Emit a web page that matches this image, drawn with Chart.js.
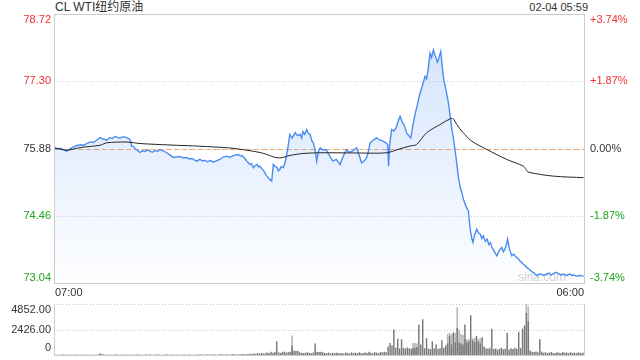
<!DOCTYPE html>
<html>
<head>
<meta charset="utf-8">
<script src="https://cdn.jsdelivr.net/npm/chart.js@4.4.0/dist/chart.umd.min.js"></script>
<style>
  html, body { margin: 0; padding: 0; background: #fff; }
  #wrap { position: relative; width: 640px; height: 360px; overflow: hidden;
          font-family: "Liberation Sans", Arial, "Noto Sans CJK SC", sans-serif; color: #333; }
  #title { position: absolute; left: 55px; top: 0; font-size: 12px; line-height: 14px; }
  #stamp { position: absolute; right: 52px; top: 0; font-size: 11px; line-height: 14px; }
  canvas { position: absolute; left: 0; }
  #main { top: 0; }
  #vol { top: 300px; }
</style>
</head>
<body>
<div id="wrap">
  <div id="title">CL WTI纽约原油</div>
  <div id="stamp">02-04 05:59</div>
  <canvas id="main" width="640" height="300"></canvas>
  <canvas id="vol" width="640" height="60"></canvas>
</div>
<script>
// minutes after 07:00 and last price
const priceMinutes = [
  0, 8, 16, 24, 33, 40, 47, 53, 59, 70,
  78, 85, 94, 102, 112, 120, 128, 137, 146, 152,
  159, 166, 172, 180, 189, 195, 199, 202, 206, 211,
  218, 224, 230, 237, 243, 250, 256, 263, 270, 276,
  284, 293, 302, 311, 318, 328, 337, 346, 352, 359,
  365, 372, 380, 386, 393, 400, 407, 415, 422, 432,
  440, 450, 457, 463, 470, 480, 485, 490, 496, 502,
  506, 510, 514, 519, 524, 529, 533, 536, 542, 547,
  550, 554, 558, 562, 567, 571, 576, 581, 584, 588,
  592, 597, 602, 606, 610, 614, 620, 628, 634, 641,
  645, 648, 653, 658, 662, 667, 671, 675, 680, 684,
  688, 693, 700, 708, 716, 726, 735, 745, 752, 762,
  768, 776, 782, 788, 794, 801, 808, 814, 818, 823,
  830, 840, 848, 857, 864, 869, 871, 874, 879, 885,
  891, 896, 901, 906, 911, 915, 918, 924, 929, 934,
  940, 946, 953, 959, 966, 970, 974, 979, 983, 988,
  992, 995, 998, 1001, 1004, 1007, 1011, 1015, 1021, 1027,
  1031, 1036, 1040, 1044, 1049, 1053, 1058, 1062, 1066, 1071,
  1075, 1079, 1082, 1085, 1088, 1091, 1095, 1098, 1101, 1105,
  1110, 1114, 1118, 1123, 1128, 1132, 1136, 1140, 1143, 1148,
  1153, 1159, 1166, 1170, 1174, 1178, 1181, 1186, 1192, 1197,
  1203, 1208, 1213, 1220, 1226, 1231, 1237, 1242, 1250, 1257,
  1262, 1268, 1275, 1283, 1289, 1294, 1300, 1309, 1314, 1320,
  1327, 1335, 1340, 1344, 1348, 1352, 1358, 1364, 1370, 1379
];
const price = [
  75.895, 75.87, 75.88, 75.86, 75.823, 75.86, 75.90, 75.92, 75.943, 75.96,
  75.95, 75.985, 76.02, 76.006, 76.06, 76.111, 76.08, 76.055, 76.111, 76.09,
  76.139, 76.11, 76.101, 76.13, 76.111, 76.09, 76.05, 75.928, 75.93, 75.88,
  75.84, 75.796, 75.83, 75.817, 75.85, 75.823, 75.80, 75.838, 75.82, 75.859,
  75.83, 75.796, 75.74, 75.691, 75.70, 75.712, 75.68, 75.691, 75.66, 75.67,
  75.64, 75.613, 75.65, 75.62, 75.628, 75.60, 75.63, 75.592, 75.62, 75.649,
  75.70, 75.718, 75.69, 75.712, 75.74, 75.754, 75.72, 75.733, 75.68, 75.613,
  75.58, 75.543, 75.56, 75.474, 75.52, 75.543, 75.49, 75.508, 75.45, 75.396,
  75.35, 75.297, 75.26, 75.228, 75.192, 75.543, 75.50, 75.48, 75.41, 75.438,
  75.50, 75.474, 75.60, 75.754, 75.95, 76.175, 76.10, 76.217, 76.15, 76.175,
  76.10, 76.238, 76.18, 76.28, 76.20, 76.175, 76.05, 76.0, 75.85, 75.613,
  75.80, 75.895, 75.85, 75.859, 75.75, 75.613, 75.65, 75.543, 75.70, 75.859,
  75.80, 75.817, 75.86, 75.895, 75.75, 75.579, 75.62, 75.684, 75.80, 76.0,
  76.05, 76.105, 76.06, 76.034, 76.00, 75.964, 75.508, 75.95, 76.28, 76.25,
  76.322, 76.45, 76.559, 76.45, 76.385, 76.30, 76.21, 76.15, 76.105, 76.35,
  76.595, 76.80, 77.052, 77.20, 77.40, 77.35, 77.542, 77.893, 77.80, 77.963,
  77.85, 77.794, 77.70, 77.752, 77.85, 77.927, 77.60, 77.331, 77.10, 76.841,
  76.60, 76.28, 76.10, 75.859, 75.55, 75.27, 75.05, 74.95, 74.807, 74.70,
  74.62, 74.561, 74.30, 74.107, 73.98, 73.896, 74.05, 74.12, 74.176, 74.10,
  74.071, 73.98, 74.035, 73.92, 73.966, 73.85, 73.896, 73.80, 73.755, 73.68,
  73.615, 73.72, 73.791, 73.70, 73.755, 73.85, 73.966, 73.75, 73.615, 73.65,
  73.587, 73.56, 73.509, 73.45, 73.41, 73.37, 73.33, 73.293, 73.25, 73.194,
  73.22, 73.23, 73.20, 73.23, 73.25, 73.209, 73.24, 73.265, 73.23, 73.209,
  73.23, 73.194, 73.22, 73.23, 73.20, 73.209, 73.19, 73.187, 73.20, 73.181
];

// average price line
const avgMinutes = [
  0, 33, 68, 120, 137, 189, 224, 302, 380, 458,
  502, 536, 554, 580, 596, 606, 641, 693, 797, 866,
  901, 927, 944, 970, 1005, 1031, 1039, 1049, 1065, 1088,
  1127, 1179, 1222, 1229, 1235, 1300, 1379
];
const avgPrice = [
  75.90, 75.844, 75.90, 75.949, 76.0, 76.017, 75.985, 75.954, 75.928, 75.891,
  75.844, 75.796, 75.754, 75.684, 75.691, 75.718, 75.769, 75.79, 75.785, 75.79,
  75.874, 75.933, 75.964, 76.21, 76.385, 76.505, 76.511, 76.385, 76.217, 76.034,
  75.859, 75.649, 75.508, 75.438, 75.381, 75.297, 75.264
];

const prevClose = 75.88;
const priceTicks = [73.04, 74.46, 75.88, 77.30, 78.72];
const pctLabels = ['-3.74%', '-1.87%', '0.00%', '+1.87%', '+3.74%'];
const timeLabels = ['07:00', '06:00'];

// volume, one bar per 5 minutes
const volDark = [
  40, 20, 30, 20, 30, 50, 20, 30, 40, 20, 30, 20, 40, 30, 20, 30, 50, 30, 20, 40, 30, 20, 30, 40, 160,
  90, 40, 30, 50, 30, 20, 40, 60, 30, 20, 40, 30, 50, 20, 30, 40, 30, 20, 50, 30, 40, 20, 30, 60, 30,
  40, 30, 20, 40, 50, 30, 20, 30, 40, 60, 30, 20, 40, 30, 50, 30, 20, 40, 30, 20, 50, 40, 30, 20, 40,
  30, 60, 40, 30, 50, 40, 30, 60, 40, 50, 30, 40, 70, 50, 40, 60, 30, 50, 80, 60, 40, 70, 50, 90, 60,
  80, 100, 120, 90, 150, 110, 180, 130, 200, 150, 170, 240, 180, 300, 220, 310, 1300, 250, 200, 280, 320, 230, 260, 300, 900,
  420, 380, 400, 250, 200, 180, 220, 260, 200, 170, 240, 1100, 300, 280, 320, 260, 200, 180, 230, 150, 210, 170, 220, 190, 160,
  200, 150, 230, 180, 140, 260, 190, 220, 170, 250, 200, 160, 240, 180, 300, 210, 170, 260, 220, 190, 280, 240, 310, 260, 800,
  1150, 900, 2426, 700, 1550, 620, 1500, 680, 600, 720, 650, 580, 700, 640, 760, 2900, 1000, 3400, 650, 1600, 600, 560, 1300, 620, 1000,
  580, 640, 1400, 700, 900, 1100, 1800, 1000, 2100, 1200, 2600, 1200, 1100, 1000, 2900, 1200, 1300, 3780, 1400, 1200, 1800, 1300, 1100, 1700, 800,
  650, 600, 700, 2500, 560, 620, 500, 580, 700, 540, 600, 2100, 520, 640, 560, 700, 600, 2200, 650, 2500, 2800, 4000, 3200, 420, 300,
  280, 340, 260, 1500, 300, 220, 260, 180, 240, 300, 200, 170, 260, 220, 190, 280, 210, 240, 180, 260, 200, 230, 170, 250, 210, 190, 230
];
const volLight = [
  0, 0, 0, 0, 0, 0, 0, 0, 0, 0, 0, 0, 0, 0, 0, 0, 0, 0, 0, 0, 0, 0, 0, 0, 0,
  0, 0, 0, 0, 0, 0, 0, 0, 0, 0, 0, 0, 0, 0, 0, 0, 0, 0, 0, 0, 0, 0, 0, 0, 0,
  0, 0, 0, 0, 0, 0, 0, 0, 0, 0, 0, 0, 0, 0, 0, 0, 0, 0, 0, 0, 0, 0, 0, 0, 0,
  0, 0, 0, 0, 0, 0, 0, 0, 0, 0, 0, 0, 0, 0, 0, 0, 0, 0, 0, 0, 0, 0, 0, 0, 0,
  0, 0, 0, 0, 0, 0, 0, 0, 0, 0, 0, 0, 0, 0, 0, 0, 0, 0, 0, 0, 0, 0, 0, 0, 1850,
  0, 0, 0, 0, 0, 0, 0, 0, 0, 0, 0, 0, 0, 0, 0, 0, 0, 0, 0, 0, 0, 0, 0, 0, 0,
  0, 0, 0, 0, 0, 0, 0, 0, 0, 0, 0, 0, 0, 0, 0, 0, 0, 0, 0, 0, 0, 0, 0, 0, 0,
  0, 0, 0, 0, 0, 0, 0, 0, 0, 0, 0, 0, 1150, 1150, 1100, 0, 0, 0, 0, 0, 0, 0, 0, 0, 0,
  0, 0, 0, 0, 0, 2000, 2100, 2000, 2200, 2100, 4530, 2426, 2000, 1900, 1500, 1500, 1500, 0, 1600, 1600, 1600, 1500, 1600, 0, 0,
  0, 0, 0, 0, 0, 0, 0, 0, 0, 0, 0, 0, 0, 0, 0, 0, 0, 0, 0, 0, 0, 4852, 4600, 0, 0,
  0, 0, 0, 0, 0, 0, 0, 0, 0, 0, 0, 0, 0, 0, 0, 0, 0, 0, 0, 0, 0, 0, 0, 0, 0, 0, 0
];
const volTicks = [0, 2426, 4852];
const volTickLabels = ['0', '2426.00', '4852.00'];

const FONT = '11px "Liberation Sans", Arial, sans-serif';
const RED = '#f0302c', GREEN = '#1ba51b', TEXT = '#333333';

function hline(ctx, x0, x1, y) {
  ctx.beginPath(); ctx.moveTo(x0, y); ctx.lineTo(x1, y); ctx.stroke();
}
function vline(ctx, x, y0, y1) {
  ctx.beginPath(); ctx.moveTo(x, y0); ctx.lineTo(x, y1); ctx.stroke();
}

const mainDecor = {
  id: 'mainDecor',
  beforeDatasetsDraw(chart) {
    const { ctx, chartArea: a, scales: { y } } = chart;
    ctx.save();
    ctx.lineWidth = 1;
    ctx.strokeStyle = '#cfcfcf';
    ctx.setLineDash([1, 2]);
    priceTicks.slice(1, -1).forEach(v => hline(ctx, a.left, a.right, Math.round(y.getPixelForValue(v)) + 0.5));
    ctx.strokeStyle = '#f3a66e';
    ctx.setLineDash([5, 3]);
    hline(ctx, a.left, a.right, Math.round(y.getPixelForValue(prevClose)) + 0.5);
    ctx.setLineDash([]);
    ctx.font = '12px "Liberation Sans", Arial, sans-serif';
    ctx.fillStyle = '#d2d2d2';
    ctx.textAlign = 'right';
    ctx.textBaseline = 'middle';
    ctx.fillText('sina.com', a.right - 18, a.bottom - 5);
    ctx.restore();
  },
  afterDraw(chart) {
    const { ctx, chartArea: a, scales: { y } } = chart;
    ctx.save();
    ctx.strokeStyle = '#cccccc';
    ctx.lineWidth = 1;
    ctx.strokeRect(Math.round(a.left) + 0.5, Math.round(a.top) + 0.5,
                   Math.round(a.right - a.left), Math.round(a.bottom - a.top));
    ctx.font = FONT;
    ctx.textBaseline = 'middle';
    priceTicks.forEach((v, i) => {
      let py = y.getPixelForValue(v);
      if (i === priceTicks.length - 1) py += 6;
      if (i === 0) py -= 5;
      ctx.fillStyle = v > prevClose ? RED : (v < prevClose ? GREEN : TEXT);
      ctx.textAlign = 'right';
      ctx.fillText(v.toFixed(2), a.left - 3, py);
      ctx.textAlign = 'left';
      ctx.fillText(pctLabels[i], a.right + 6, py);
    });
    ctx.fillStyle = TEXT;
    ctx.textAlign = 'left';
    ctx.fillText(timeLabels[0], a.left + 1, a.bottom + 10);
    ctx.textAlign = 'right';
    ctx.fillText(timeLabels[1], a.right, a.bottom + 10);
    ctx.restore();
  }
};

const volDecor = {
  id: 'volDecor',
  beforeDatasetsDraw(chart) {
    const { ctx, chartArea: a, scales: { y } } = chart;
    ctx.save();
    ctx.lineWidth = 1;
    ctx.strokeStyle = '#c4c4c4';
    ctx.setLineDash([1, 2]);
    volTicks.slice(1).forEach(v => hline(ctx, a.left, a.right, Math.round(y.getPixelForValue(v)) + 0.5));
    ctx.restore();
  },
  afterDraw(chart) {
    const { ctx, chartArea: a, scales: { y } } = chart;
    ctx.save();
    ctx.lineWidth = 1;
    ctx.strokeStyle = '#cccccc';
    const l = Math.round(a.left) + 0.5, r = Math.round(a.right) + 0.5, b = Math.round(a.bottom) + 0.5;
    vline(ctx, l, a.top, b);
    vline(ctx, r, a.top, b);
    hline(ctx, l, r, b);
    ctx.font = FONT;
    ctx.fillStyle = TEXT;
    ctx.textAlign = 'right';
    ctx.textBaseline = 'middle';
    volTicks.forEach((v, i) => {
      let py = y.getPixelForValue(v);
      if (i === 0) py -= 7;
      if (i === volTicks.length - 1) py += 6;
      ctx.fillText(volTickLabels[i], a.left - 3, py);
    });
    ctx.restore();
  }
};

new Chart(document.getElementById('main'), {
  type: 'line',
  data: {
    datasets: [
      {
        data: priceMinutes.map((m, i) => ({ x: m, y: price[i] })),
        borderColor: '#4b8cf2',
        borderWidth: 1.4,
        pointRadius: 0,
        tension: 0,
        fill: 'start',
        order: 2,
        backgroundColor: (c) => {
          const { ctx, chartArea } = c.chart;
          if (!chartArea) return 'rgba(74,138,244,0.12)';
          const g = ctx.createLinearGradient(0, chartArea.top, 0, chartArea.bottom);
          g.addColorStop(0, 'rgba(74,138,244,0.26)');
          g.addColorStop(1, 'rgba(74,138,244,0.01)');
          return g;
        }
      },
      {
        data: avgMinutes.map((m, i) => ({ x: m, y: avgPrice[i] })),
        borderColor: '#262626',
        borderWidth: 1,
        pointRadius: 0,
        tension: 0.3,
        fill: false,
        order: 1
      }
    ]
  },
  options: {
    responsive: false,
    animation: false,
    devicePixelRatio: 1,
    events: [],
    layout: { padding: { left: 54, right: 56, top: 14, bottom: 17 } },
    plugins: { legend: { display: false }, tooltip: { enabled: false } },
    scales: {
      x: { type: 'linear', min: 0, max: 1380, display: false },
      y: { min: priceTicks[0], max: priceTicks[priceTicks.length - 1], display: false }
    }
  },
  plugins: [mainDecor]
});

new Chart(document.getElementById('vol'), {
  type: 'bar',
  data: {
    labels: volDark.map((_, i) => i),
    datasets: [
      { data: volLight, backgroundColor: '#b8b8b8', categoryPercentage: 1, barPercentage: 0.85, grouped: false, order: 2 },
      { data: volDark, backgroundColor: '#777777', categoryPercentage: 1, barPercentage: 0.75, grouped: false, order: 1 }
    ]
  },
  options: {
    responsive: false,
    animation: false,
    devicePixelRatio: 1,
    events: [],
    layout: { padding: { left: 54, right: 56, top: 4, bottom: 5 } },
    plugins: { legend: { display: false }, tooltip: { enabled: false } },
    scales: {
      x: { display: false, offset: false },
      y: { min: 0, max: 4852, display: false }
    }
  },
  plugins: [volDecor]
});
</script>
</body>
</html>
